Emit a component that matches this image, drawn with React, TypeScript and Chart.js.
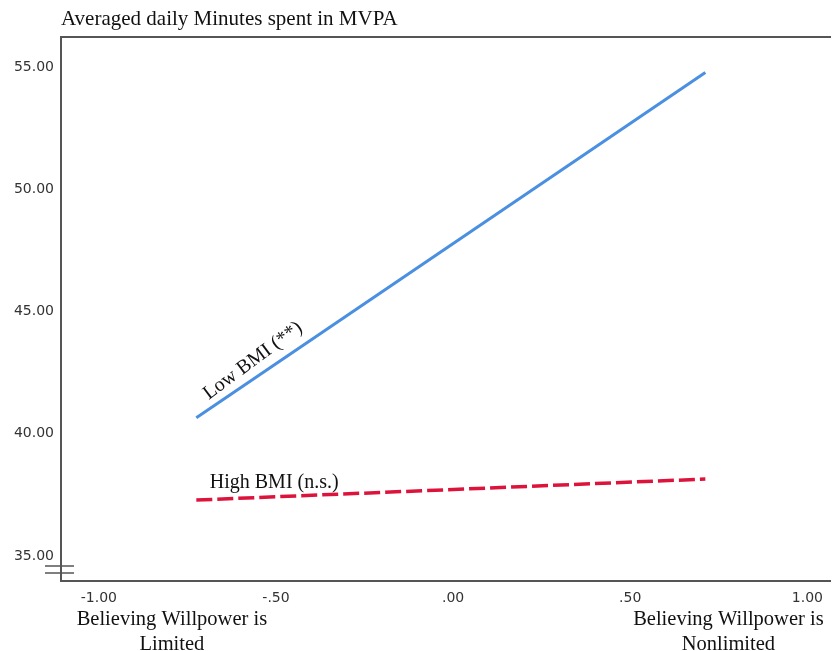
import React, { useEffect, useRef } from "react";
import { Chart, registerables } from "chart.js";

Chart.register(...registerables);

// ---- data ----
const xEnds = [-0.725, 0.712];
const lowBMI = [40.66, 54.78];
const highBMI = [37.29, 38.15];
const xTicks = [-1, -0.5, 0, 0.5, 1];
const yTicks = [35, 40, 45, 50, 55];
const seriesNames = ["Low BMI (**)", "High BMI (n.s.)"];
const endLabelsLeft = ["Believing Willpower is", "Limited"];
const endLabelsRight = ["Believing Willpower is", "Nonlimited"];
const titleText = "Averaged daily Minutes spent in MVPA";

function fmt(v: number): string {
  const s = Math.abs(v).toFixed(2);
  const t = s.startsWith("0") ? s.slice(1) : s;
  return (v < 0 ? "-" : "") + t;
}

const SERIF = '"Liberation Serif", "Times New Roman", serif';
const SANS = '"DejaVu Sans", sans-serif';

const annotPlugin = {
  id: "annot",
  afterDraw(chart: any) {
    const { ctx, chartArea, scales } = chart;
    const x = scales.x;
    const y = scales.y;
    ctx.save();
    // axis break symbol
    ctx.strokeStyle = "#555";
    ctx.lineWidth = 1.5;
    [15, 8].forEach((d) => {
      ctx.beginPath();
      ctx.moveTo(chartArea.left - 16, chartArea.bottom - d);
      ctx.lineTo(chartArea.left + 13, chartArea.bottom - d);
      ctx.stroke();
    });

    ctx.fillStyle = "#111";
    // Low BMI label (rotated along the line)
    ctx.font = "20px " + SERIF;
    ctx.textAlign = "left";
    ctx.textBaseline = "alphabetic";
    ctx.save();
    ctx.translate(x.getPixelForValue(-0.69), y.getPixelForValue(41.38));
    ctx.rotate((-36.5 * Math.PI) / 180);
    ctx.fillText(seriesNames[0], 0, 0);
    ctx.restore();
    // High BMI label
    ctx.fillText(seriesNames[1], x.getPixelForValue(-0.687), y.getPixelForValue(37.78));

    // end labels under the x axis
    ctx.font = "20.5px " + SERIF;
    ctx.textAlign = "center";
    const lx = x.getPixelForValue(-0.794);
    const rx = x.getPixelForValue(0.777);
    [0, 1].forEach((i) => {
      const yy = chartArea.bottom + 44 + i * 25;
      ctx.fillText(endLabelsLeft[i], lx, yy);
      ctx.fillText(endLabelsRight[i], rx, yy);
    });
    ctx.restore();
  },
};

export default function App() {
  const ref = useRef<HTMLCanvasElement | null>(null);
  useEffect(() => {
    if (!ref.current) return;
    const chart = new Chart(ref.current, {
      type: "line",
      data: {
        datasets: [
          {
            label: seriesNames[0],
            data: xEnds.map((v, i) => ({ x: v, y: lowBMI[i] })),
            borderColor: "#4a8fe0",
            borderWidth: 3,
            pointRadius: 0,
            fill: false,
          },
          {
            label: seriesNames[1],
            data: xEnds.map((v, i) => ({ x: v, y: highBMI[i] })),
            borderColor: "#dc143c",
            borderWidth: 3.5,
            borderDash: [16, 5],
            pointRadius: 0,
            fill: false,
          },
        ],
      },
      options: {
        responsive: false,
        animation: false,
        devicePixelRatio: 1,
        layout: { padding: { left: 0, top: 0, bottom: 0, right: -2 } },
        plugins: {
          legend: { display: false },
          tooltip: { enabled: false },
          title: { display: false },
        },
        scales: {
          x: {
            type: "linear",
            position: "bottom",
            min: -1.107,
            max: 1.065,
            afterBuildTicks: (s: any) => {
              s.ticks = xTicks.map((v) => ({ value: v }));
            },
            afterFit: (s: any) => {
              s.height = 70;
            },
            grid: { display: false, drawTicks: false },
            border: { display: true, color: "#555", width: 2 },
            ticks: {
              autoSkip: false,
              maxRotation: 0,
              padding: 9,
              color: "#333",
              font: { family: SANS, size: 14 },
              callback: (v: any) => fmt(Number(v)),
            },
          },
          x2: {
            type: "linear",
            position: "top",
            min: -1.107,
            max: 1.065,
            afterFit: (s: any) => {
              s.height = 37;
            },
            grid: { display: false, drawTicks: false },
            border: { display: true, color: "#555", width: 2 },
            ticks: { display: false },
            title: {
              display: true,
              text: titleText,
              align: "start",
              color: "#111",
              font: { family: SERIF, size: 21, lineHeight: 1.2 },
              padding: { top: 7, bottom: 0 },
            },
          },
          y: {
            type: "linear",
            position: "left",
            min: 33.98,
            max: 56.23,
            afterBuildTicks: (s: any) => {
              s.ticks = yTicks.map((v) => ({ value: v }));
            },
            afterFit: (s: any) => {
              s.width = 61;
            },
            grid: { display: false, drawTicks: false },
            border: { display: true, color: "#555", width: 2 },
            ticks: {
              padding: 7,
              color: "#333",
              font: { family: SANS, size: 14 },
              callback: (v: any) => fmt(Number(v)),
            },
          },
        },
      },
      plugins: [annotPlugin],
    } as any);
    return () => chart.destroy();
  }, []);
  return (
    <div style={{ position: "absolute", left: 0, top: 0, width: 832, height: 651, background: "#fff" }}>
      <canvas ref={ref} width={832} height={651} />
    </div>
  );
}
